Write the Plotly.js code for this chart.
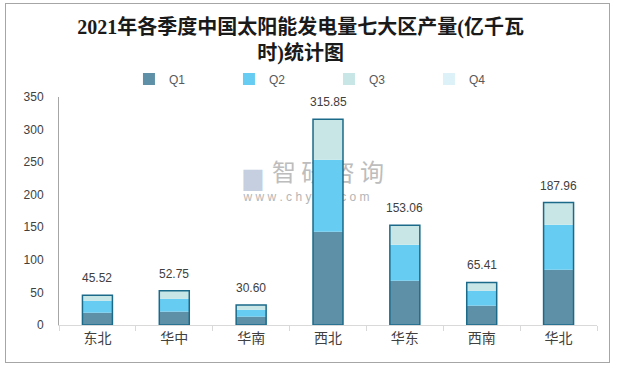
<!DOCTYPE html>
<html><head><meta charset="utf-8">
<script src="https://cdn.plot.ly/plotly-3.0.1.min.js"></script>
<style>
html,body{margin:0;padding:0;background:#fff;}
#wrap{position:relative;width:620px;height:368px;}
#chart{width:620px;height:368px;}
#frame{position:absolute;left:5px;top:3px;width:605px;height:360px;border:1px solid #a6a6a6;pointer-events:none;box-sizing:border-box;}
</style></head>
<body><div id="wrap"><div id="chart"></div><div id="frame"></div></div>
<script>
const categories = ['东北','华中','华南','西北','华东','西南','华北'];
const q1 = [18.9, 20.5, 12.8, 143.3, 68.1, 29.7, 85.0];
const q2 = [18.5, 19.9, 10.7, 110.5, 55.2, 23.0, 69.0];
const q3 = [8.12, 12.35, 7.10, 62.05, 29.76, 12.71, 33.96];
const q4 = [0, 0, 0, 0, 0, 0, 0];
const totals = [45.52, 52.75, 30.60, 315.85, 153.06, 65.41, 187.96];
const seriesNames = ['Q1','Q2','Q3','Q4'];

const colors = ['#5e91a8','#66ccf2','#c8e6e6','#ddf2f8'];
const base2 = q1.map((v)=>v);
const base3 = q1.map((v,i)=>v+q2[i]);
const base4 = q1.map((v,i)=>v+q2[i]+q3[i]);
const W = 0.39;
function seg(name, y, base, color){
  return {type:'bar', name:name, x:categories, y:y, base:base, width:W,
    marker:{color:color, line:{width:0}}, hoverinfo:'skip'};
}
const traces = [
  seg(seriesNames[0], q1, q1.map(()=>0), colors[0]),
  seg(seriesNames[1], q2, base2, colors[1]),
  seg(seriesNames[2], q3, base3, colors[2]),
  seg(seriesNames[3], q4, base4, colors[3]),
  {type:'bar', x:categories, y:totals, base:totals.map(()=>0), width:W, showlegend:false,
   marker:{color:'rgba(0,0,0,0)', line:{color:'#1b6a8a', width:1.5}}, hoverinfo:'skip'}
];

const annotations = categories.map((c,i)=>({
  x:c, y:totals[i], xref:'x', yref:'y', text:totals[i].toFixed(2), showarrow:false,
  yshift:17, font:{family:'Liberation Sans, Arial, sans-serif', size:12, color:'#404040'}
}));

function wm(x0,x1,y0,y1,text,size,color,family){
  return {type:'rect', xref:'paper', yref:'paper', x0:x0, x1:x1, y0:y0, y1:y1, layer:'below',
    line:{width:0}, fillcolor:'rgba(0,0,0,0)',
    label:{text:text, textposition:'middle center', font:{family:family, size:size, color:color}}};
}

const layout = {
  width:620, height:368,
  margin:{l:59, r:23, t:97, b:43},
  paper_bgcolor:'#fff', plot_bgcolor:'rgba(0,0,0,0)',
  barmode:'overlay',
  title:{text:'2021年各季度中国太阳能发电量七大区产量(亿千瓦<br>时)统计图',
    font:{family:'Liberation Serif, Noto Sans CJK SC, serif', size:20, color:'#1a1a1a', weight:'bold'},
    x:0.485, xanchor:'center', y:0.908, yanchor:'middle', yref:'container'},
  legend:{orientation:'h', xref:'container', yref:'container', x:0.208, xanchor:'left', y:0.785, yanchor:'middle',
    entrywidth:55, entrywidthmode:'pixels', itemwidth:30,
    font:{family:'Liberation Sans, Arial, sans-serif', size:12, color:'#595959'}},
  xaxis:{type:'category', showline:true, linecolor:'#d9d9d9', linewidth:1,
    ticks:'outside', tickson:'boundaries', ticklen:5, tickcolor:'#d9d9d9',
    tickfont:{family:'Noto Sans CJK SC, sans-serif', size:14, color:'#404040'},
    showgrid:false, zeroline:false, fixedrange:true},
  yaxis:{range:[0,350], dtick:50, showline:true, linecolor:'#a6a6a6', linewidth:1,
    ticks:'', ticklabelstandoff:12, showgrid:false, zeroline:false,
    tickfont:{family:'Liberation Sans, Arial, sans-serif', size:12, color:'#404040'}, fixedrange:true},
  annotations:annotations,
  shapes:[
    wm(0.32, 0.40, 0.61, 0.71, '▆', 24, '#c5cfe0', 'DejaVu Sans, sans-serif'),
    wm(0.38, 0.62, 0.61, 0.71, '智 研 咨 询', 24, '#bdbdbd', 'Noto Sans CJK SC, sans-serif'),
    wm(0.30, 0.62, 0.53, 0.60, 'w w w . c h y x x . c o m', 12, '#b5b5b5', 'Liberation Sans, Arial, sans-serif')
  ]
};
Plotly.newPlot('chart', traces, layout, {staticPlot:true, displayModeBar:false});
</script></body></html>
